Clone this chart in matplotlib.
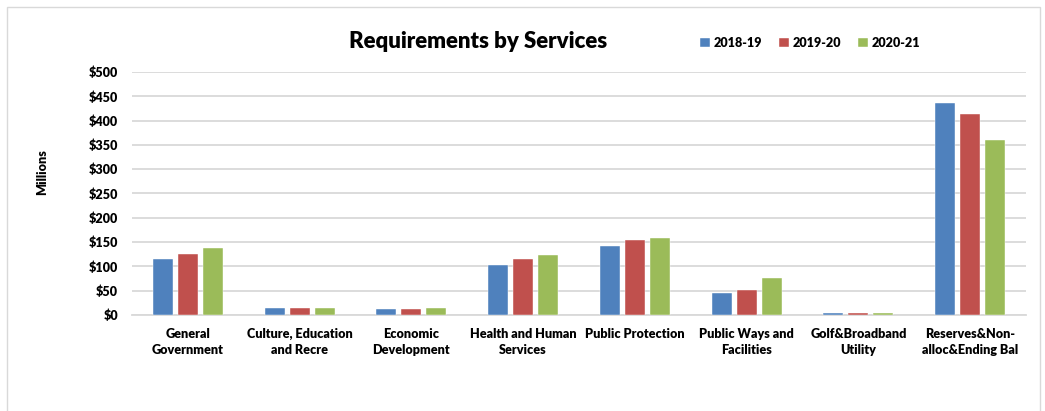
import matplotlib
matplotlib.use("Agg")
import matplotlib.pyplot as plt
import numpy as np
from matplotlib.patches import Rectangle

categories = ["General\nGovernment", "Culture, Education\nand Recre", "Economic\nDevelopment",
              "Health and Human\nServices", "Public Protection", "Public Ways and\nFacilities",
              "Golf&Broadband\nUtility", "Reserves&Non-\nalloc&Ending Bal"]
series_names = ["2018-19", "2019-20", "2020-21"]
v2018 = [115, 15, 12, 103, 141, 46, 4, 436]
v2019 = [126, 15, 12, 115, 154, 52, 4, 413]
v2020 = [138, 14, 14, 124, 159, 76, 4, 360]
colors = ["#4f81bd", "#c0504d", "#9bbb59"]
yticks = [0, 50, 100, 150, 200, 250, 300, 350, 400, 450, 500]

plt.rcParams['font.family'] = ['Lato', 'DejaVu Sans']
W = 'heavy'
FS = 9.1

fig = plt.figure(figsize=(10.45, 4.11), dpi=100)
fig.patches.append(Rectangle((7/1045, -0.1), (1040-7)/1045, 1.1 - 7/411, transform=fig.transFigure,
                             fill=False, edgecolor="#d9d9d9", linewidth=1.0))
ax = fig.add_axes([132/1045, 1-315/411, (1026-132)/1045, (315-72)/411])

x = np.arange(len(categories))
w = 0.18
step = 0.224
for i, (vals, c, n) in enumerate(zip([v2018, v2019, v2020], colors, series_names)):
    ax.bar(x + (i-1)*step, vals, width=w, color=c, edgecolor="white", linewidth=0.3, label=n, zorder=3)

ax.set_xlim(-0.5, len(categories)-0.5)
ax.set_ylim(0, 500)
ax.set_yticks(yticks)
ax.set_yticklabels([f"${t}" for t in yticks], fontsize=FS, fontweight=W)
ax.set_xticks(x)
ax.set_xticklabels(categories, fontsize=FS, fontweight=W, linespacing=1.4)
ax.tick_params(axis='y', length=0, pad=10)
ax.tick_params(axis='x', length=0, pad=9)
ax.grid(axis='y', color="#d9d9d9", linewidth=1.3, zorder=0)
for s in ["top", "right", "left"]:
    ax.spines[s].set_visible(False)
ax.spines["bottom"].set_color("#d9d9d9")
ax.spines["bottom"].set_linewidth(1.3)

fig.text(478/1045, 1-42/411, "Requirements by Services", ha="center", va="center",
         fontsize=16, fontweight=W)
fig.text(42/1045, 1-172/411, "Millions", rotation=90, ha="center", va="center",
         fontsize=FS, fontweight=W)
leg = fig.legend(loc="center left", bbox_to_anchor=(695/1045, 1-43/411), ncol=3, frameon=False,
                 prop={'size': FS, 'weight': W}, handlelength=0.8, handleheight=0.8,
                 columnspacing=1.3, handletextpad=0.3, borderaxespad=0)
fig.savefig("out.png", dpi=100)
